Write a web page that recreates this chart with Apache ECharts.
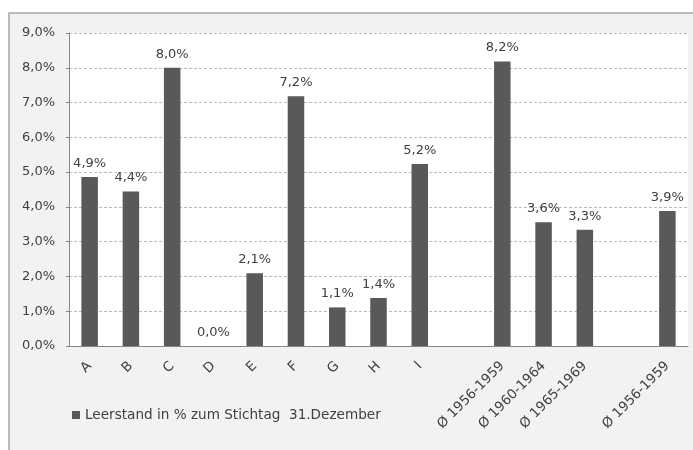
<!DOCTYPE html>
<html><head><meta charset="utf-8">
<script src="https://cdn.jsdelivr.net/npm/echarts@6/dist/echarts.min.js"></script>
<style>html,body{margin:0;padding:0;background:#fff;}#c{width:693px;height:450px;}</style>
</head><body><div id="c"></div>
<script>
const categories = ['A','B','C','D','E','F','G','H','I',' ','Ø 1956-1959','Ø 1960-1964','Ø 1965-1969','  ','Ø 1956-1959'];
const values = [4.86, 4.44, 8.0, 0.0, 2.09, 7.18, 1.11, 1.38, 5.23, null, 8.18, 3.56, 3.34, null, 3.88];
const yTicks = {min: 0, max: 9, interval: 1};
const seriesName = 'Leerstand in % zum Stichtag  31.Dezember';

const fmt = v => v.toFixed(1).replace('.', ',') + '%';
const font = 'DejaVu Sans';
const chart = echarts.init(document.getElementById('c'), null, {renderer: 'canvas'});
chart.setOption({
  animation: false,
  textStyle: {fontFamily: font},
  graphic: [{
    type: 'rect', z: -10, silent: true,
    shape: {x: 9, y: 13, width: 700, height: 460},
    style: {fill: '#f2f2f2', stroke: '#a6a6a6', lineWidth: 1.5}
  }],
  grid: {left: 69, right: 5, top: 33, bottom: 104, show: true, backgroundColor: '#ffffff', borderWidth: 0},
  legend: {
    left: 67, top: 403, itemWidth: 8, itemHeight: 8, icon: 'rect', itemGap: 4,
    textStyle: {fontFamily: font, fontSize: 13.6, color: '#404040'},
    data: [seriesName]
  },
  xAxis: {
    type: 'category', data: categories,
    axisLine: {lineStyle: {color: '#868686'}},
    axisTick: {length: 4, lineStyle: {color: '#868686'}},
    axisLabel: {rotate: 45, margin: 18, interval: 0, fontFamily: font, fontSize: 13.5, color: '#404040'}
  },
  yAxis: {
    type: 'value', min: yTicks.min, max: yTicks.max, interval: yTicks.interval,
    axisLine: {show: true, lineStyle: {color: '#868686'}},
    axisTick: {show: true, length: 3, lineStyle: {color: '#868686'}},
    axisLabel: {margin: 14, fontFamily: font, fontSize: 13, color: '#404040', formatter: fmt},
    splitLine: {lineStyle: {color: '#bcbcbc', type: [3, 2]}}
  },
  series: [{
    name: seriesName, type: 'bar', data: values, barWidth: '40%',
    itemStyle: {color: '#595959'},
    label: {show: true, position: 'top', distance: 7, fontFamily: font, fontSize: 13, color: '#404040',
      formatter: p => fmt(p.value)}
  }]
});
</script></body></html>
